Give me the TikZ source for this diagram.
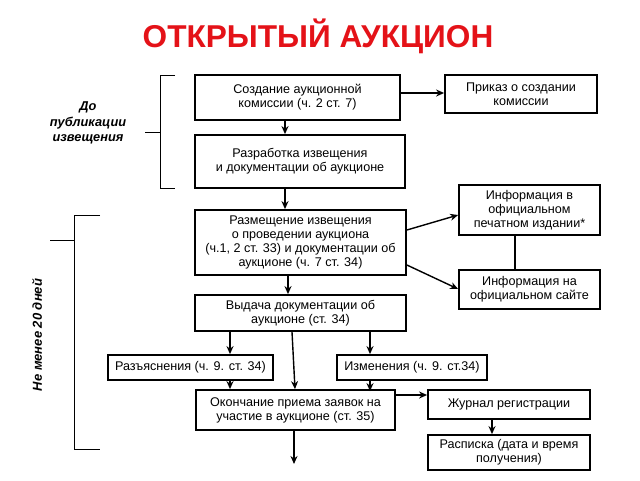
\documentclass[tikz,border=0pt]{standalone}
\usepackage{fontspec}
\setmainfont{Liberation Sans}
\usetikzlibrary{arrows.meta}
\definecolor{titlered}{RGB}{228,18,24}
\begin{document}
\begin{tikzpicture}[x=1pt,y=-1pt,
  box/.style={draw=black,line width=1.8pt,rectangle,align=center,inner sep=0pt,
    font=\fontsize{12.6}{14}\selectfont},
  arr/.style={line width=1.4pt,-{Stealth[length=8pt,width=7pt]}},
  ln/.style={line width=1.4pt},
  brk/.style={line width=1pt}]
\useasboundingbox (0,0) rectangle (640,480);
\node[font=\fontsize{31.6}{32}\bfseries\selectfont,text=titlered] (title) at (318,36) {ОТКРЫТЫЙ АУКЦИОН};

\node[box,minimum width=205pt,minimum height=45pt] (b1) at (297.5,97.5) {Создание аукционной\\комиссии (ч. 2 ст. 7)};
\node[box,minimum width=210pt,minimum height=53pt] (b2) at (300,161.5) {Разработка извещения\\и документации об аукционе};
\node[box,minimum width=211pt,minimum height=65pt] (b3) at (300.5,242.5) {Размещение извещения\\о проведении аукциона\\(ч.1, 2 ст. 33) и документации об\\аукционе (ч. 7 ст. 34)};
\node[box,minimum width=211pt,minimum height=36pt] (b4) at (300.5,313) {Выдача документации об\\аукционе (ст. 34)};
\node[box,minimum width=152pt,minimum height=38pt] (prikaz) at (521,94) {Приказ о создании\\комиссии};
\node[box,minimum width=141pt,minimum height=50pt] (info1) at (529.5,210) {Информация в\\официальном\\печатном издании*};
\node[box,minimum width=141pt,minimum height=39pt] (info2) at (529.5,289.5) {Информация на\\официальном сайте};
\node[box,minimum width=165pt,minimum height=25pt] (razj) at (190.5,367.5) {Разъяснения (ч. 9. ст. 34)};
\node[box,minimum width=150pt,minimum height=25pt] (izm) at (412,367.5) {Изменения (ч. 9. ст.34)};
\node[box,minimum width=199pt,minimum height=40pt] (okon) at (295.5,410) {Окончание приема заявок на\\участие в аукционе (ст. 35)};
\node[box,minimum width=162pt,minimum height=29pt] (zhurn) at (509,404.5) {Журнал регистрации};
\node[box,minimum width=162pt,minimum height=35pt] (rasp) at (509,452.5) {Расписка (дата и время\\получения)};

\coordinate (c230) at (230,0);
\coordinate (c285) at (285,0);
\coordinate (c288) at (288,0);
\coordinate (c292) at (292,0);
\coordinate (c295) at (295,0);
\coordinate (c370) at (370,0);
\coordinate (c492) at (492,0);
\coordinate (c515) at (515,0);
\coordinate (endp) at (294,464);

\draw[arr] (b1.east |- 0,93) -- (prikaz.west |- 0,93);
\draw[arr] (b1.south -| c285) -- (b2.north -| c285);
\draw[arr] (b2.south -| c285) -- (b3.north -| c285);
\draw[arr] (b3.south -| c288) -- (b4.north -| c288);
\draw[arr] (b3.east |- 0,230) -- (info1.west |- 0,215);
\draw[arr] (b3.east |- 0,265) -- (info2.west |- 0,289);
\draw[ln] (info1.south -| c515) -- (info2.north -| c515);
\draw[arr] (b4.south -| c230) -- (razj.north -| c230);
\draw[arr] (b4.south -| c370) -- (izm.north -| c370);
\draw[arr] (b4.south -| c292) -- (okon.north -| c295);
\draw[arr] (razj.south -| c230) -- (okon.north -| c230);
\draw[arr] (izm.south -| c370) -- ([yshift=-2pt]okon.north -| c370);
\draw[arr] (okon.east |- 0,395) -- (zhurn.west |- 0,395);
\draw[arr] (zhurn.south -| c492) -- (rasp.north -| c492);
\draw[arr] (okon.south -| endp) -- (endp);

% brackets
\draw[brk] (175,75) -- (160,75) -- (160,188) -- (175,188);
\draw[brk] (145,132) -- (160,132);
\node[font=\fontsize{12.8}{15.5}\bfseries\itshape\selectfont,align=center] (pre) at (88,123) {До\\публикации\\извещения};
\draw[brk] (100,215) -- (74,215) -- (74,449) -- (100,449);
\draw[brk] (50,240) -- (74,240);
\node[font=\fontsize{13}{14}\bfseries\itshape\selectfont,rotate=90] (days) at (37,335) {Не менее 20 дней};
\end{tikzpicture}
\end{document}
